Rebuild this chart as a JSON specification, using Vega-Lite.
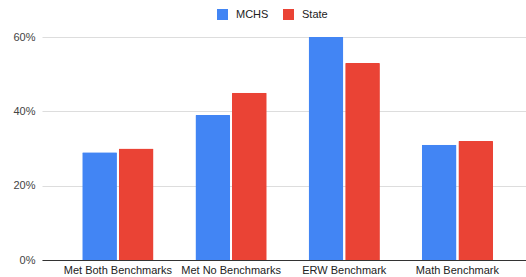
{
  "$schema": "https://vega.github.io/schema/vega-lite/v6.json",
  "width": 484,
  "height": 223,
  "autosize": {"type": "none"},
  "padding": {"left": 42, "top": 37, "right": 0, "bottom": 17},
  "background": "white",
  "data": {
    "values": [
      {"category": "Met Both Benchmarks", "series": "MCHS", "value": 0.29},
      {"category": "Met Both Benchmarks", "series": "State", "value": 0.30},
      {"category": "Met No Benchmarks", "series": "MCHS", "value": 0.39},
      {"category": "Met No Benchmarks", "series": "State", "value": 0.45},
      {"category": "ERW Benchmark", "series": "MCHS", "value": 0.60},
      {"category": "ERW Benchmark", "series": "State", "value": 0.53},
      {"category": "Math Benchmark", "series": "MCHS", "value": 0.31},
      {"category": "Math Benchmark", "series": "State", "value": 0.32}
    ]
  },
  "mark": {"type": "bar", "cornerRadiusTopLeft": 1, "cornerRadiusTopRight": 1},
  "encoding": {
    "x": {
      "field": "category",
      "type": "nominal",
      "sort": null,
      "scale": {"paddingInner": 0.37, "paddingOuter": 0.323, "align": 0.55},
      "axis": {
        "title": null,
        "labelAngle": 0,
        "ticks": false,
        "domainColor": "#333333",
        "labelColor": "#222222",
        "labelFontSize": 11,
        "labelFont": "Liberation Sans",
        "labelPadding": 4,
        "grid": false
      }
    },
    "xOffset": {"field": "series", "type": "nominal", "scale": {"paddingInner": 0.05}},
    "y": {
      "field": "value",
      "type": "quantitative",
      "scale": {"domain": [0, 0.6], "nice": false},
      "axis": {
        "title": null,
        "values": [0, 0.2, 0.4, 0.6],
        "format": ".0%",
        "domain": false,
        "ticks": false,
        "gridColor": "#dddddd",
        "labelColor": "#444444",
        "labelFontSize": 11,
        "labelFont": "Liberation Sans",
        "labelPadding": 7
      }
    },
    "color": {
      "field": "series",
      "type": "nominal",
      "scale": {"domain": ["MCHS", "State"], "range": ["#4285F4", "#EA4335"]},
      "legend": {
        "title": null,
        "orient": "none",
        "legendX": 175,
        "legendY": -28,
        "direction": "horizontal",
        "symbolType": "square",
        "symbolSize": 121,
        "symbolStrokeWidth": 0,
        "symbolOpacity": 1,
        "labelFontSize": 11,
        "labelFont": "Liberation Sans",
        "labelColor": "#222222",
        "labelOffset": 8,
        "columnPadding": 14
      }
    }
  },
  "config": {
    "view": {"stroke": null}
  }
}
